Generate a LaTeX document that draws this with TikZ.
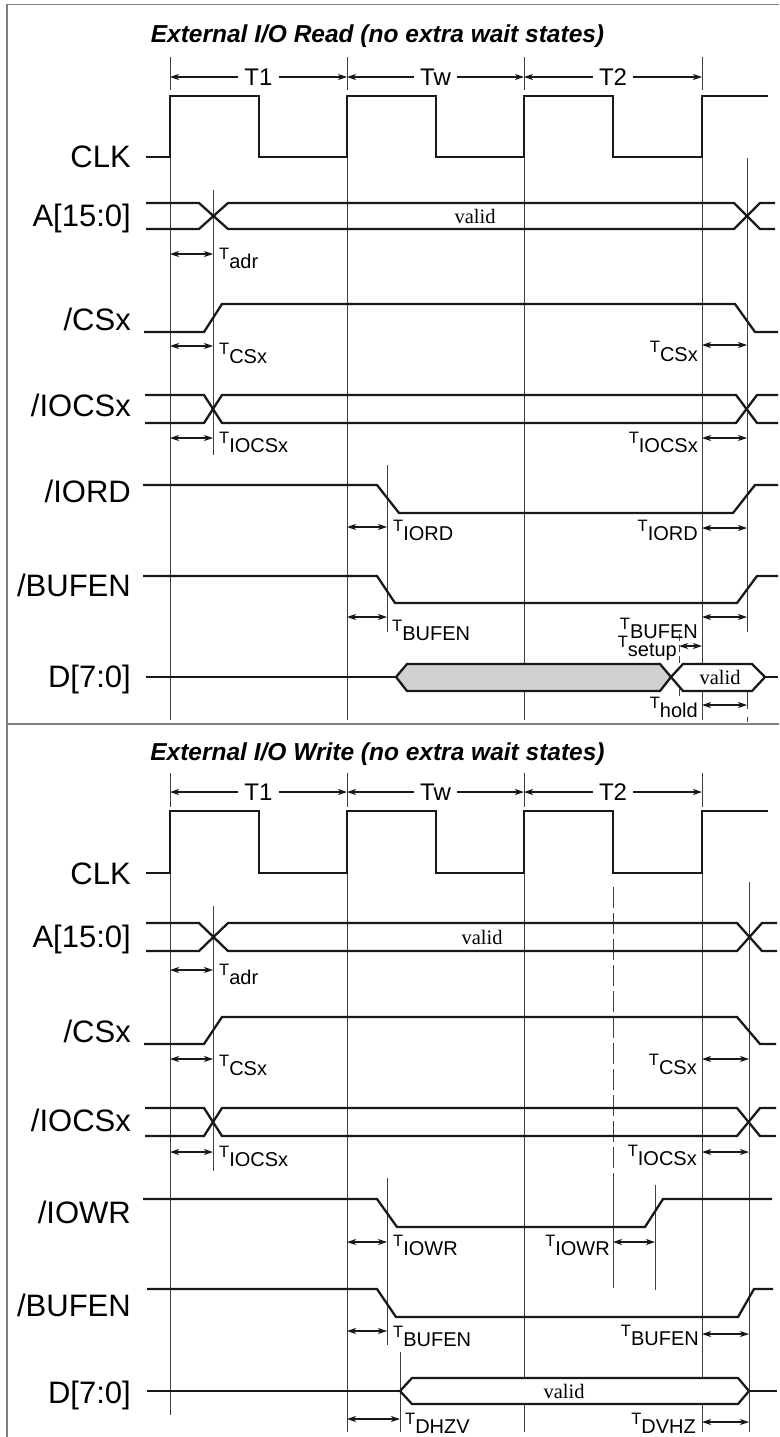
\documentclass[tikz,border=0pt]{standalone}
\usepackage{fontspec}
\setmainfont{Liberation Sans}
\newfontfamily\validfont{Liberation Serif}
\usetikzlibrary{arrows.meta}
\newcommand\TT[1]{{\fontsize{16.5}{16.5}\selectfont T}\raisebox{-9pt}{\fontsize{20}{20}\selectfont #1}}
\tikzset{
  frame/.style={line width=1.5pt, black!50},
  sig/.style={line width=2.3pt, black!90, line join=miter},
  guide/.style={line width=1pt, black!75},
  dim/.style={line width=1.1pt, black!90, >={Stealth[length=9pt,width=6pt,inset=2.5pt]}, <->},
  perarrow/.style={line width=1.1pt, black!90, >={Stealth[length=9pt,width=6pt,inset=2.5pt]}, ->},
  per/.style={inner xsep=6pt, inner ysep=0pt, fill=white, font=\fontsize{24}{24}\selectfont},
  siglabel/.style={anchor=base east, inner sep=0pt, font=\fontsize{31}{31}\selectfont},
  tl/.style={anchor=base west, inner sep=0pt},
  tr/.style={anchor=base east, inner sep=0pt},
  validlab/.style={inner sep=0pt, font=\validfont\fontsize{20.5}{20.5}\selectfont},
  ttl/.style={anchor=base, inner sep=0pt, font=\fontsize{24.5}{24.5}\selectfont\bfseries\itshape}
}
\begin{document}
\begin{tikzpicture}[x=1pt,y=-1pt]
\useasboundingbox (0,0) rectangle (779,1437);
% frame
\draw[frame] (779,4.5) -- (7,4.5) -- (7,1437);
\draw[frame] (7,724) -- (779,724);

% ================= TOP PANEL =================
\node[ttl] (title1) at (377.5,43) {External I/O Read (no extra wait states)};
\foreach \x in {170,347,524,702} \draw[guide] (\x,57) -- (\x,90);
\node[per] (pa1) at (258.5,77) {T1};
\node[per] (pa2) at (435.5,77) {Tw};
\node[per] (pa3) at (613,77) {T2};
\draw[perarrow] (pa1.west) -- (170,77);
\draw[perarrow] (pa1.east) -- (347,77);
\draw[perarrow] (pa2.west) -- (347,77);
\draw[perarrow] (pa2.east) -- (524,77);
\draw[perarrow] (pa3.west) -- (524,77);
\draw[perarrow] (pa3.east) -- (702,77);

% guides
\foreach \x in {170,347,524,702} \draw[guide] (\x,157) -- (\x,720);
\draw[guide] (213,190) -- (213,455);
\draw[guide] (387,465) -- (387,632);
\draw[guide] (747,158) -- (747,632);
\draw[guide, dash pattern=on 18pt off 8pt] (747,691) -- (747,722);
\draw[guide, dash pattern=on 7pt off 4pt] (679,634) -- (679,700);

% signal labels
\node[siglabel] (l1) at (131,167.7) {CLK};
\node[siglabel] (l2) at (131,226.7) {A[15:0]};
\node[siglabel] (l3) at (131,330) {/CSx};
\node[siglabel] (l4) at (131,416.7) {/IOCSx};
\node[siglabel] (l5) at (131,502.7) {/IORD};
\node[siglabel] (l6) at (131,596.7) {/BUFEN};
\node[siglabel] (l7) at (131,687) {D[7:0]};

% CLK
\draw[sig] (146,157) -| (170,96) -| (259,157) -| (347,96) -| (436,157) -| (524,96) -| (613,157) -| (702,96) -- (768,96);
% A
\draw[sig] (146,203) -- (199,203) -- (228,229) -- (734,229) -- (760,203) -- (775,203);
\draw[sig] (146,229) -- (199,229) -- (228,203) -- (734,203) -- (760,229) -- (775,229);
\node[validlab] (va1) at (475,216) {valid};
% CSx
\draw[sig] (144,332) -- (204,332) -- (222,304) -- (735,304) -- (755,332) -- (778,332);
% IOCSx
\draw[sig] (145,395) -- (204,395) -- (222,423) -- (736,423) -- (757,395) -- (778,395);
\draw[sig] (145,423) -- (204,423) -- (222,395) -- (736,395) -- (757,423) -- (778,423);
% IORD
\draw[sig] (143,485) -- (377,485) -- (399,513) -- (733,513) -- (755,485) -- (778,485);
% BUFEN
\draw[sig] (143,576) -- (377,576) -- (395,603) -- (737,603) -- (757,576) -- (778,576);
% D
\draw[sig] (146,677) -- (396,677);
\draw[sig, fill=black!18] (396,677) -- (407,664) -- (660,664) -- (671,677) -- (660,691) -- (407,691) -- cycle;
\draw[sig, fill=white] (671,677) -- (683,664) -- (752,664) -- (765,677) -- (752,691) -- (683,691) -- cycle;
\draw[sig] (765,677) -- (778,677);
\node[validlab] (vd1) at (720,677) {valid};

% dimension arrows
\draw[dim] (170,254) -- (213,254);
\draw[dim] (170,346) -- (213,346);
\draw[dim] (702,345) -- (747,345);
\draw[dim] (170,438) -- (213,438);
\draw[dim] (702,438) -- (747,438);
\draw[dim] (347,527) -- (387,527);
\draw[dim] (702,528) -- (747,528);
\draw[dim] (347,617) -- (387,617);
\draw[dim] (702,617) -- (747,617);
\draw[dim] (679,646) -- (702,646);
\draw[dim] (702,705) -- (747,705);

% timing labels
\node[tl] (t1) at (219,259.5) {\TT{adr}};
\node[tl] (t2) at (219,354) {\TT{CSx}};
\node[tr] (t3) at (698,352) {\TT{CSx}};
\node[tl] (t4) at (219,443) {\TT{IOCSx}};
\node[tr] (t5) at (698,443) {\TT{IOCSx}};
\node[tl] (t6) at (393,531.5) {\TT{IORD}};
\node[tr] (t7) at (698,531.5) {\TT{IORD}};
\node[tl] (t8) at (392,631.5) {\TT{BUFEN}};
\node[tr] (t9) at (698,629.5) {\TT{BUFEN}};
\node[tr] (t10) at (677,647.5) {\TT{setup}};
\node[tr] (t11) at (698,708) {\TT{hold}};

% ================= BOTTOM PANEL =================
\node[ttl] (title2) at (377.5,760) {External I/O Write (no extra wait states)};
\foreach \x in {170,347,524,702} \draw[guide] (\x,773) -- (\x,807);
\node[per] (pb1) at (258.5,792) {T1};
\node[per] (pb2) at (435.5,792) {Tw};
\node[per] (pb3) at (613,792) {T2};
\draw[perarrow] (pb1.west) -- (170,792);
\draw[perarrow] (pb1.east) -- (347,792);
\draw[perarrow] (pb2.west) -- (347,792);
\draw[perarrow] (pb2.east) -- (524,792);
\draw[perarrow] (pb3.west) -- (524,792);
\draw[perarrow] (pb3.east) -- (702,792);

% guides
\draw[guide] (170,873) -- (170,1415);
\foreach \x in {347,524,702} \draw[guide] (\x,873) -- (\x,1432);
\draw[guide] (213,906) -- (213,1171);
\draw[guide] (749,882) -- (749,1432);
\draw[guide, dash pattern=on 21pt off 5pt] (613,887) -- (613,1183);
\draw[guide] (613,1183) -- (613,1288);
\draw[guide] (387,1178) -- (387,1345);
\draw[guide] (655,1185) -- (655,1290);
\draw[guide] (400,1352) -- (400,1432);

% signal labels
\node[siglabel] (m1) at (131,884) {CLK};
\node[siglabel] (m2) at (131,947.5) {A[15:0]};
\node[siglabel] (m3) at (131,1042.5) {/CSx};
\node[siglabel] (m4) at (131,1131) {/IOCSx};
\node[siglabel] (m5) at (131,1223) {/IOWR};
\node[siglabel] (m6) at (131,1316) {/BUFEN};
\node[siglabel] (m7) at (131,1403) {D[7:0]};

% CLK
\draw[sig] (146,873) -| (170,811) -| (259,873) -| (347,811) -| (436,873) -| (524,811) -| (613,873) -| (702,811) -- (768,811);
% A
\draw[sig] (146,923) -- (199,923) -- (228,951) -- (737,951) -- (762,923) -- (777,923);
\draw[sig] (146,951) -- (199,951) -- (228,923) -- (737,923) -- (762,951) -- (777,951);
\node[validlab] (va2) at (482,937) {valid};
% CSx
\draw[sig] (144,1044) -- (204,1044) -- (222,1017) -- (737,1017) -- (760,1044) -- (776,1044);
% IOCSx
\draw[sig] (145,1108) -- (204,1108) -- (222,1136) -- (737,1136) -- (760,1108) -- (776,1108);
\draw[sig] (145,1136) -- (204,1136) -- (222,1108) -- (737,1108) -- (760,1136) -- (776,1136);
% IOWR
\draw[sig] (143,1199) -- (377,1199) -- (397,1227) -- (645,1227) -- (663,1199) -- (772,1199);
% BUFEN
\draw[sig] (147,1289) -- (377,1289) -- (396,1317) -- (738,1317) -- (754,1289) -- (773,1289);
% D
\draw[sig] (147,1391) -- (400,1391);
\draw[sig, fill=white] (400,1391) -- (412,1378) -- (738,1378) -- (749,1391) -- (738,1404) -- (412,1404) -- cycle;
\draw[sig] (749,1391) -- (777,1391);
\node[validlab] (vd2) at (564,1391) {valid};

% dimension arrows
\draw[dim] (170,970) -- (213,970);
\draw[dim] (170,1059) -- (213,1059);
\draw[dim] (702,1059) -- (749,1059);
\draw[dim] (170,1152) -- (213,1152);
\draw[dim] (702,1152) -- (749,1152);
\draw[dim] (347,1242) -- (387,1242);
\draw[dim] (613,1242) -- (655,1242);
\draw[dim] (347,1331) -- (387,1331);
\draw[dim] (702,1334) -- (749,1334);
\draw[dim] (347,1419) -- (400,1419);
\draw[dim] (702,1422) -- (749,1422);

% timing labels
\node[tl] (u1) at (219,975.5) {\TT{adr}};
\node[tl] (u2) at (219,1066.5) {\TT{CSx}};
\node[tr] (u3) at (697,1065.5) {\TT{CSx}};
\node[tl] (u4) at (219,1157) {\TT{IOCSx}};
\node[tr] (u5) at (697,1156.5) {\TT{IOCSx}};
\node[tl] (u6) at (393,1246.5) {\TT{IOWR}};
\node[tr] (u7) at (610,1246.5) {\TT{IOWR}};
\node[tl] (u8) at (393,1337.5) {\TT{BUFEN}};
\node[tr] (u9) at (699,1336.5) {\TT{BUFEN}};
\node[tl] (u10) at (405,1424.5) {\TT{DHZV}};
\node[tr] (u11) at (696,1424.5) {\TT{DVHZ}};
\end{tikzpicture}
\end{document}
